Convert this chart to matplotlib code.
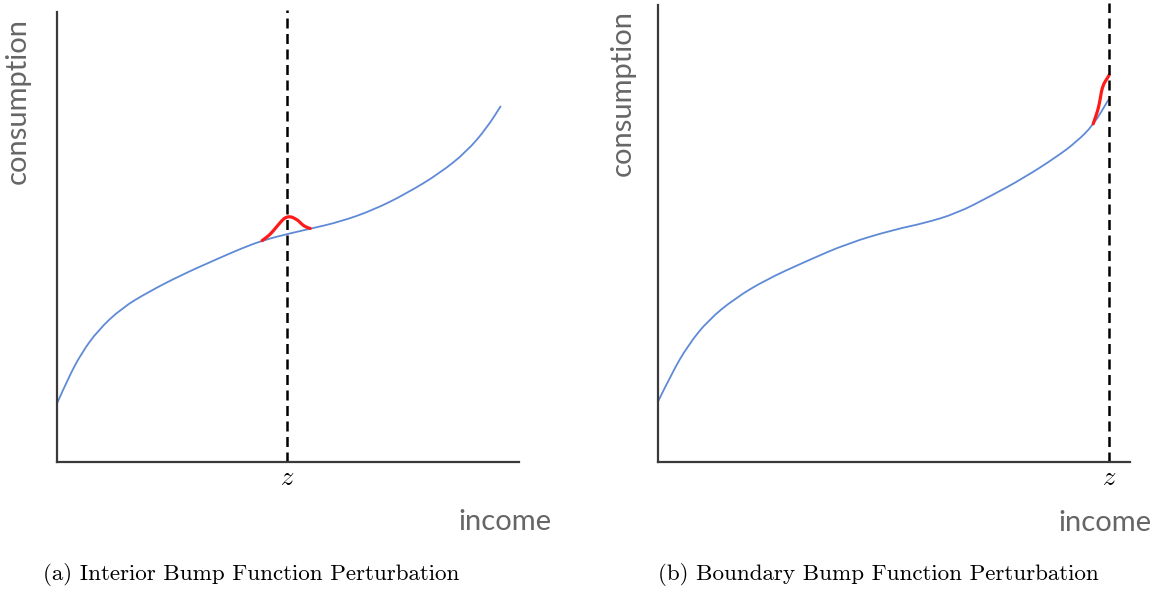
import matplotlib.pyplot as plt
from matplotlib.path import Path
from matplotlib.patches import PathPatch

plt.rcParams['mathtext.fontset'] = 'cm'

# panel (a): smooth consumption function with an interior bump at z
income_a = [0.00, 0.24, 0.53, 0.89, 1.40, 1.98, 2.70, 3.42, 4.00, 4.47,
            5.04, 5.51, 6.13, 6.85, 7.57, 8.29, 8.87, 9.30, 9.60]
consumption_a = [1.30, 1.86, 2.42, 2.93, 3.42, 3.78, 4.16, 4.49, 4.75, 4.93,
                 5.08, 5.19, 5.34, 5.60, 5.97, 6.42, 6.90, 7.42, 7.90]
bump_x_a = [4.44, 4.55, 4.65, 4.74, 4.83, 4.91, 4.99, 5.07, 5.15, 5.23, 5.30, 5.39, 5.48]
bump_y_a = [4.92, 5.00, 5.10, 5.21, 5.32, 5.41, 5.45, 5.45, 5.41, 5.36, 5.28, 5.22, 5.19]
z_a = 4.98

# panel (b): same kind of curve, bump sits on the upper boundary z
income_b = [0.00, 0.29, 0.64, 1.07, 1.63, 2.27, 3.11, 4.03, 5.02, 5.62,
            6.33, 7.03, 7.74, 8.45, 8.87, 9.22, 9.54]
consumption_b = [1.32, 1.94, 2.56, 3.11, 3.58, 3.98, 4.38, 4.79, 5.09, 5.22,
                 5.44, 5.81, 6.21, 6.68, 7.01, 7.37, 7.92]
bump_x_b = [9.22, 9.28, 9.33, 9.37, 9.40, 9.44, 9.47, 9.52, 9.56]
bump_y_b = [7.40, 7.58, 7.74, 7.95, 8.14, 8.26, 8.32, 8.40, 8.47]
z_b = 9.56

W, H = 1164, 610
fig = plt.figure(figsize=(W / 100, H / 100), dpi=100)

label_font = dict(family='Lato', color='#666666', fontsize=21)
caption_font = dict(family='cmr10', color='black', fontsize=16.6)


def px(x, y):
    return x / W, 1 - y / H


def smooth_curve(ax, xs, ys, **kw):
    # quadratic Bezier through the midpoints, the read points act as controls
    pts = list(zip(xs, ys))
    verts = [pts[0]]
    codes = [Path.MOVETO]
    for i in range(1, len(pts) - 1):
        mid = ((pts[i][0] + pts[i + 1][0]) / 2, (pts[i][1] + pts[i + 1][1]) / 2)
        verts += [pts[i], mid]
        codes += [Path.CURVE3, Path.CURVE3]
    verts.append(pts[-1])
    codes.append(Path.LINETO)
    ax.add_patch(PathPatch(Path(verts, codes), fill=False, capstyle='round', **kw))


def panel(left, top, right, bottom, xs, ys, bx, by, z):
    ax = fig.add_axes([left / W, 1 - bottom / H, (right - left) / W, (bottom - top) / H])
    ax.set_xlim(0, 10)
    ax.set_ylim(0, 10)
    for side in ('top', 'right'):
        ax.spines[side].set_visible(False)
    for side in ('left', 'bottom'):
        ax.spines[side].set_color('#3a3a3a')
        ax.spines[side].set_linewidth(1.6)
    ax.set_xticks([])
    ax.set_yticks([])
    smooth_curve(ax, xs, ys, edgecolor='#5f8ad6', lw=1.3)
    smooth_curve(ax, bx, by, edgecolor='#ff1a1a', lw=2.3)
    ax.axvline(z, ymax=1.005, color='black', lw=1.8, linestyle=(0, (4, 2.2)), clip_on=False)
    return ax


panel(57, 12, 519, 462, income_a, consumption_a, bump_x_a, bump_y_a, z_a)
panel(658, 5, 1130, 462, income_b, consumption_b, bump_x_b, bump_y_b, z_b)

# axis labels
fig.text(*px(18, 101), 'consumption', rotation=90, ha='center', va='center', **label_font)
fig.text(*px(623, 93), 'consumption', rotation=90, ha='center', va='center', **label_font)
fig.text(*px(505, 522), 'income', ha='center', va='center', **label_font)
fig.text(*px(1105, 523), 'income', ha='center', va='center', **label_font)
fig.text(*px(287, 478), r'$z$', ha='center', va='center', fontsize=19)
fig.text(*px(1109, 478), r'$z$', ha='center', va='center', fontsize=19)

# sub-figure captions
fig.text(*px(251, 575), '(a) Interior Bump Function Perturbation',
         ha='center', va='center', **caption_font)
fig.text(*px(878, 575), '(b) Boundary Bump Function Perturbation',
         ha='center', va='center', **caption_font)

fig.savefig('out.png', dpi=100)
